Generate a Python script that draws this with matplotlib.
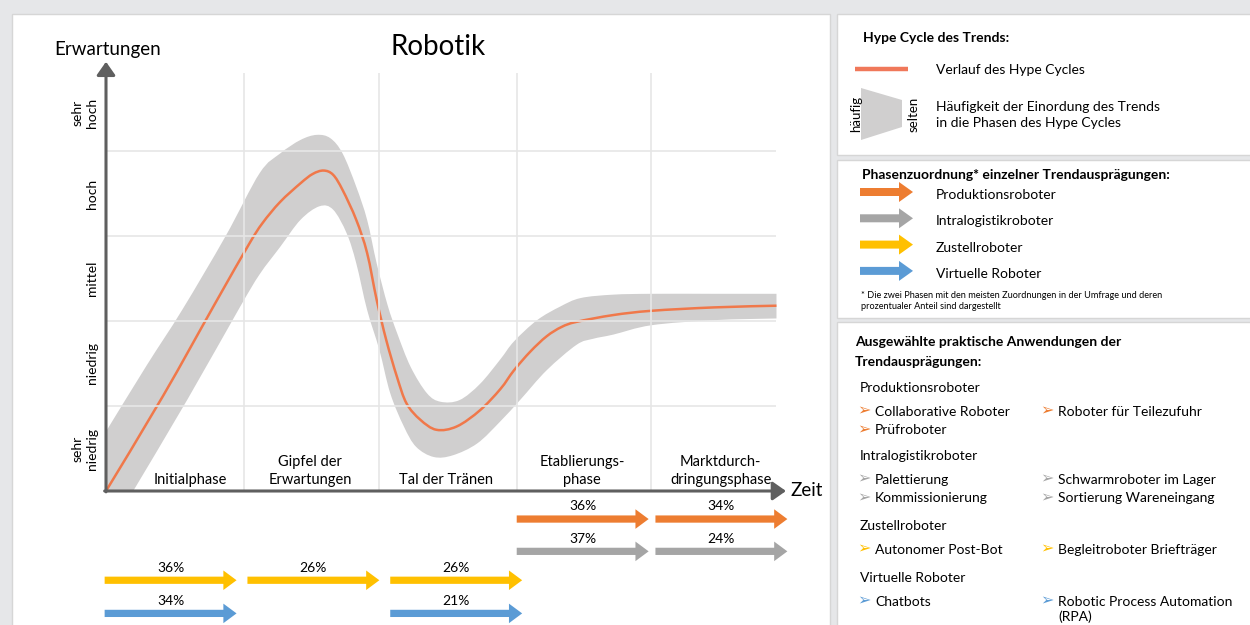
import matplotlib.pyplot as plt
from matplotlib.patches import FancyArrow, Polygon, Rectangle, PathPatch
from matplotlib.path import Path

plt.rcParams['font.family'] = ['Lato', 'DejaVu Sans']

# hype cycle centre line (x = phase units, y = expectation level)
curve_x = [0, 0.42, 0.80, 1.05, 1.15, 1.28, 1.43, 1.52, 1.60, 1.67, 1.74, 1.84, 1.92, 1.99,
           2.06, 2.14, 2.21, 2.31, 2.43, 2.58, 2.75, 2.90, 3.0, 3.12, 3.24, 3.35, 3.46, 3.73,
           4.01, 4.47, 4.93]
curve_y = [0, 1.12, 2.20, 2.90, 3.15, 3.40, 3.62, 3.73, 3.77, 3.72, 3.54, 3.19, 2.80, 2.25,
           1.78, 1.34, 1.03, 0.84, 0.72, 0.76, 0.95, 1.20, 1.42, 1.64, 1.82, 1.93, 1.99, 2.07,
           2.12, 2.16, 2.18]

# grey band (frequency of classification), upper and lower edge
band_up_x = [0, 0.30, 0.56, 0.88, 1.13, 1.28, 1.43, 1.55, 1.65, 1.74, 1.84, 1.92, 1.99, 2.07,
             2.14, 2.24, 2.36, 2.46, 2.60, 2.75, 2.90, 3.0, 3.17, 3.34, 3.49, 3.73, 4.01, 4.47, 4.93]
band_up_y = [0.70, 1.48, 2.13, 3.00, 3.74, 3.97, 4.13, 4.19, 4.15, 3.97, 3.58, 3.19, 2.68, 2.19,
             1.86, 1.46, 1.15, 1.05, 1.07, 1.26, 1.55, 1.76, 2.01, 2.17, 2.27, 2.31, 2.32, 2.32, 2.32]
band_lo_x = [0.2, 0.60, 0.98, 1.13, 1.28, 1.43, 1.57, 1.67, 1.77, 1.84, 1.92, 2.01, 2.09, 2.19,
             2.28, 2.41, 2.55, 2.73, 2.90, 3.05, 3.24, 3.46, 3.58, 3.73, 4.01, 4.47, 4.93]
band_lo_y = [0, 1.08, 2.15, 2.55, 2.87, 3.19, 3.35, 3.31, 3.03, 2.68, 2.13, 1.66, 1.15, 0.76,
             0.52, 0.40, 0.42, 0.56, 0.82, 1.08, 1.42, 1.72, 1.79, 1.84, 1.95, 2.01, 2.03]

phases = ['Initialphase', 'Gipfel der\nErwartungen', 'Tal der Tränen',
          'Etablierungs-\nphase', 'Marktdurch-\ndringungsphase']
levels = ['sehr\nniedrig', 'niedrig', 'mittel', 'hoch', 'sehr\nhoch']

trends = ['Produktionsroboter', 'Intralogistikroboter', 'Zustellroboter', 'Virtuelle Roboter']
trend_colors = ['#ED7D31', '#A5A5A5', '#FFC000', '#5B9BD5']
trend_phase = [[3, 4], [3, 4], [0, 1, 2], [0, 2]]
trend_share = [[36, 34], [37, 24], [36, 26, 26], [34, 21]]

apps_left = [['Collaborative Roboter', 'Prüfroboter'], ['Palettierung', 'Kommissionierung'],
             ['Autonomer Post-Bot'], ['Chatbots']]
apps_right = [['Roboter für Teilezufuhr'], ['Schwarmroboter im Lager', 'Sortierung Wareneingang'],
              ['Begleitroboter Briefträger'], ['Robotic Process Automation\n(RPA)']]

# layout
grid_x = [1.015, 2.01, 3.02, 4.01]
grid_y = [1, 2, 3, 4]
phase_label_x = [0.62, 1.5, 2.5, 3.5, 4.52]
level_y = [0.5, 1.5, 2.5, 3.5, 4.45]
arrow_x0 = [-0.01, 1.04, 2.09, 3.02, 4.04]
row_y = [-0.33, -0.71, -1.05, -1.44]


def bezier_verts(xs, ys):
    # smooth curve through the read points (catmull-rom as cubic bezier)
    pts = list(zip(xs, ys))
    n = len(pts)
    verts = []
    for i in range(n - 1):
        p0, p1 = pts[max(i - 1, 0)], pts[i]
        p2, p3 = pts[i + 1], pts[min(i + 2, n - 1)]
        c1 = (p1[0] + (p2[0] - p0[0]) / 6, p1[1] + (p2[1] - p0[1]) / 6)
        c2 = (p2[0] - (p3[0] - p1[0]) / 6, p2[1] - (p3[1] - p1[1]) / 6)
        verts += [c1, c2, p2]
    return verts


fig = plt.figure(figsize=(12.5, 6.25), dpi=100, facecolor='#e6e7e9')

# background panels in pixel coords
bg = fig.add_axes([0, 0, 1, 1])
bg.set_xlim(0, 1250)
bg.set_ylim(625, 0)
bg.axis('off')
for x0, y0, x1, y1 in [(12, 14, 830, 630), (837, 14, 1252, 155),
                       (837, 160, 1252, 318), (837, 322, 1252, 630)]:
    bg.add_patch(Rectangle((x0, y0), x1 - x0, y1 - y0, fc='white', ec='#d6d6d6', lw=1))

# hype cycle chart
ax = fig.add_axes([106 / 1250, 134 / 625, 680 / 1250, 425 / 625])
ax.set_xlim(0, 5)
ax.set_ylim(0, 5)
ax.axis('off')

ax.hlines(grid_y, 0, 4.93, color='#e6e6e6', lw=1.2)
ax.vlines(grid_x, 0, 4.92, color='#e6e6e6', lw=1.2)

# band
up = bezier_verts(band_up_x, band_up_y)
lo = bezier_verts(band_lo_x[::-1], band_lo_y[::-1])
verts = [(0, 0), (band_up_x[0], band_up_y[0])] + up + [(band_lo_x[-1], band_lo_y[-1])] + lo + [(0, 0)]
codes = ([Path.MOVETO, Path.LINETO] + [Path.CURVE4] * len(up) + [Path.LINETO]
         + [Path.CURVE4] * len(lo) + [Path.CLOSEPOLY])
ax.add_patch(PathPatch(Path(verts, codes), fc='#d0cfcf', lw=0))

line = bezier_verts(curve_x, curve_y)
ax.add_patch(PathPatch(Path([(curve_x[0], curve_y[0])] + line,
                            [Path.MOVETO] + [Path.CURVE4] * len(line)),
                       fc='none', ec='#F0784A', lw=1.8))

axis_style = dict(arrowstyle='-|>,head_length=0.5,head_width=0.35', color='#5f5f5f',
                  lw=2.2, shrinkA=0, shrinkB=0, mutation_scale=16)
ax.annotate('', xy=(0, 5.05), xytext=(0, -0.01), arrowprops=axis_style, annotation_clip=False)
ax.annotate('', xy=(5.0, 0), xytext=(-0.01, 0), arrowprops=axis_style, annotation_clip=False)

ax.text(0.01, 5.19, 'Erwartungen', ha='center', va='center', fontsize=13.5)
ax.text(5.03, 0, 'Zeit', ha='left', va='center', fontsize=13.5)
ax.text(2.44, 5.22, 'Robotik', ha='center', va='center', fontsize=20)

for lab, y in zip(levels, level_y):
    ax.text(-0.06, y, lab, rotation=90, ha='right', va='center', ma='center',
            fontsize=10, linespacing=1.2, clip_on=False)

for lab, x in zip(phases, phase_label_x):
    ax.text(x, 0.05, lab, ha='center', va='bottom', ma='center', fontsize=10.5,
            linespacing=1.3)

for color, ph, share, y in zip(trend_colors, trend_phase, trend_share, row_y):
    for p, v in zip(ph, share):
        ax.add_patch(FancyArrow(arrow_x0[p], y, 0.97, 0, width=0.085, head_width=0.23,
                                head_length=0.097, length_includes_head=True,
                                color=color, lw=0, clip_on=False))
        ax.text(arrow_x0[p] + 0.485, y + 0.15, f'{v}%', ha='center', va='center', fontsize=10)

# right panel: legend
bg.text(863, 38, 'Hype Cycle des Trends:', fontsize=10, fontweight='bold', va='center')
bg.plot([855, 908], [69, 69], color='#F0785A', lw=3.2, solid_capstyle='butt')
bg.text(936, 70, 'Verlauf des Hype Cycles', fontsize=10, va='center')
bg.add_patch(Polygon([(861, 88), (902, 100), (902, 127), (861, 140)], fc='#d0cfcf', lw=0))
bg.text(856, 114, 'häufig', rotation=90, ha='center', va='center', fontsize=9.5)
bg.text(914, 114, 'selten', rotation=90, ha='center', va='center', fontsize=9.5)
bg.text(936, 115, 'Häufigkeit der Einordung des Trends\nin die Phasen des Hype Cycles',
        fontsize=10, va='center', linespacing=1.35)

bg.text(862, 175, 'Phasenzuordnung* einzelner Trendausprägungen:', fontsize=10,
        fontweight='bold', va='center')
for i, (name, color) in enumerate(zip(trends, trend_colors)):
    y = 192 + i * 26.3
    bg.add_patch(FancyArrow(860, y, 53, 0, width=8, head_width=20, head_length=14,
                            length_includes_head=True, color=color, lw=0))
    bg.text(936, y + 3, name, fontsize=10, va='center')
bg.text(861, 301, '* Die zwei Phasen mit den meisten Zuordnungen in der Umfrage und deren\n'
        'prozentualer Anteil sind dargestellt', fontsize=6.6, va='center', linespacing=1.25)

# right panel: applications
bg.text(855, 352, 'Ausgewählte praktische Anwendungen der\nTrendausprägungen:', fontsize=10,
        fontweight='bold', va='center', linespacing=1.75)
group_y = [388, 456, 526, 578]
for name, color, left, right, gy in zip(trends, trend_colors, apps_left, apps_right, group_y):
    bg.text(860, gy, name, fontsize=10, va='center')
    for col_x, items in [(857, left), (1040, right)]:
        for j, item in enumerate(items):
            iy = gy + 23.5 + j * 19
            bg.text(col_x, iy, '➢', fontsize=11.5, color=color, va='center')
            if '\n' in item:
                bg.text(col_x + 18, iy - 6, item, fontsize=10, va='top', linespacing=1.3)
            else:
                bg.text(col_x + 18, iy, item, fontsize=10, va='center')

fig.savefig('out.png', dpi=100, facecolor=fig.get_facecolor())
